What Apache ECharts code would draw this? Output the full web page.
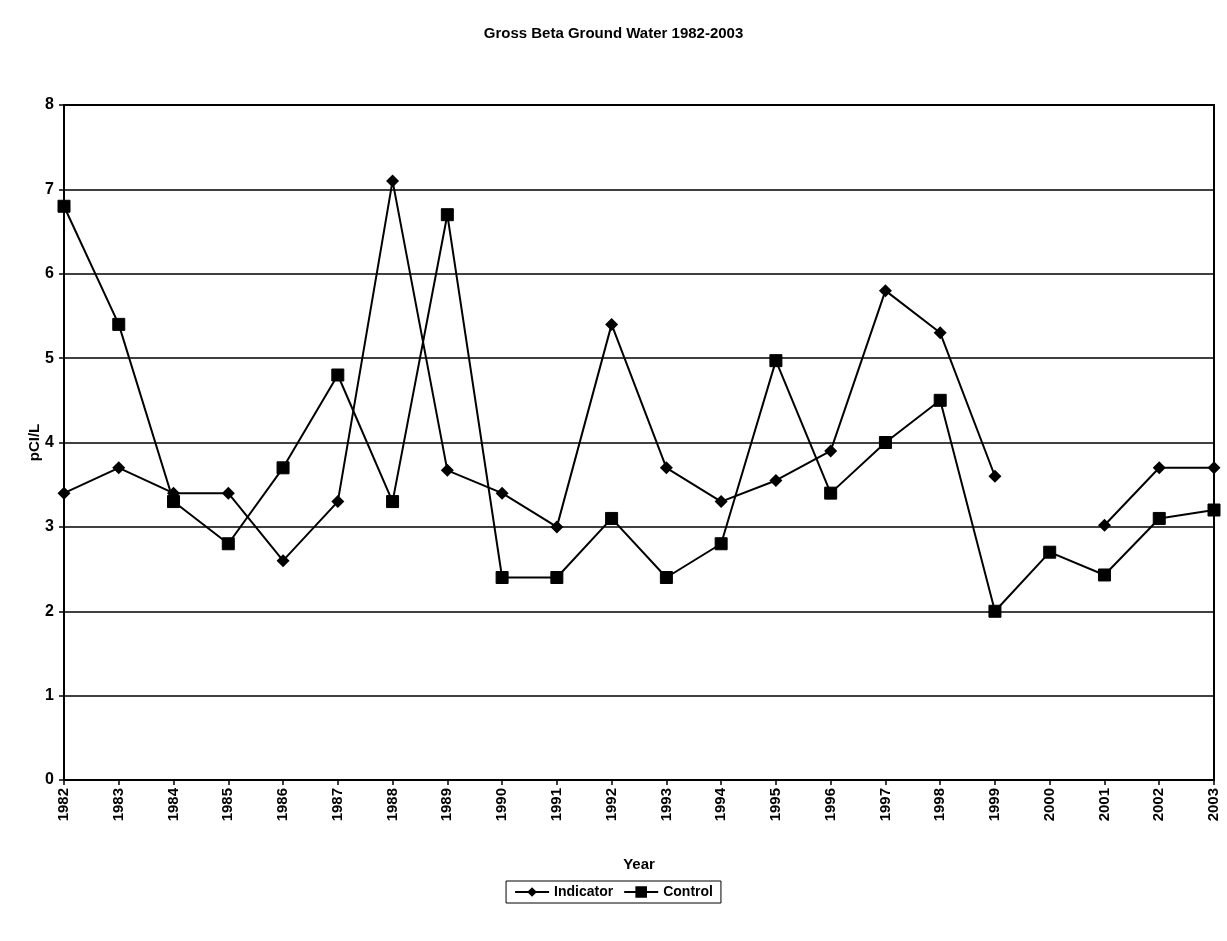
<!DOCTYPE html>
<html><head><meta charset="utf-8">
<script src="https://cdn.jsdelivr.net/npm/echarts@6/dist/echarts.min.js"></script>
<style>html,body{margin:0;padding:0;background:#fff}#c{width:1227px;height:941px}</style>
</head><body><div id="c"></div>
<script>
const years = ['1982','1983','1984','1985','1986','1987','1988','1989','1990','1991','1992','1993','1994','1995','1996','1997','1998','1999','2000','2001','2002','2003'];
const indicator = [3.4,3.7,3.4,3.4,2.6,3.3,7.1,3.67,3.4,3.0,5.4,3.7,3.3,3.55,3.9,5.8,5.3,3.6,null,3.02,3.7,3.7];
const control = [6.8,5.4,3.3,2.8,3.7,4.8,3.3,6.7,2.4,2.4,3.1,2.4,2.8,4.97,3.4,4.0,4.5,2.0,2.7,2.43,3.1,3.2];
const yTicks = [0,1,2,3,4,5,6,7,8];

const FONT = '"Liberation Sans Narrow","Liberation Sans",Arial,sans-serif';
const chart = echarts.init(document.getElementById('c'), null, {renderer:'canvas'});
chart.setOption({
  animation:false,
  backgroundColor:'#fff',
  title:{text:'Gross Beta Ground Water 1982-2003',left:'center',top:21,
    textStyle:{fontFamily:FONT,fontSize:15,fontWeight:'bold',color:'#000'}},
  legend:{bottom:38,left:'center',itemGap:10,itemWidth:34,itemHeight:12,
    borderColor:'#000',borderWidth:1,padding:[4,8],borderRadius:0,
    textStyle:{fontFamily:FONT,fontSize:14,fontWeight:'bold',color:'#000'},
    data:['Indicator','Control']},
  grid:{left:64,right:13,top:105,bottom:161,show:true,borderColor:'#000',borderWidth:2,containLabel:false},
  xAxis:{type:'category',data:years,boundaryGap:false,
    name:'Year',nameLocation:'middle',nameGap:77,nameMoveOverlap:false,
    nameTextStyle:{fontFamily:FONT,fontSize:15,fontWeight:'bold',color:'#000'},
    axisLine:{lineStyle:{color:'#000',width:2}},
    axisTick:{show:true,length:5,lineStyle:{color:'#000',width:1.5}},
    axisLabel:{rotate:90,fontFamily:FONT,fontSize:15,fontWeight:'bold',color:'#000',margin:8},
    splitLine:{show:false}},
  yAxis:{type:'value',min:yTicks[0],max:yTicks[yTicks.length-1],interval:1,
    name:'pCI/L',nameLocation:'middle',nameGap:22,nameRotate:90,nameMoveOverlap:false,
    nameTextStyle:{fontFamily:FONT,fontSize:15,fontWeight:'bold',color:'#000'},
    axisLine:{show:true,lineStyle:{color:'#000',width:2}},
    axisTick:{show:true,length:5,lineStyle:{color:'#000',width:1.5}},
    axisLabel:{fontFamily:FONT,fontSize:16,fontWeight:'bold',color:'#000',margin:10},
    splitLine:{show:true,lineStyle:{color:'#000',width:1.5}}},
  series:[
    {name:'Indicator',type:'line',data:indicator,connectNulls:false,
      symbol:'diamond',symbolSize:13,showAllSymbol:true,
      lineStyle:{color:'#000',width:2},itemStyle:{color:'#000'}},
    {name:'Control',type:'line',data:control,
      symbol:'rect',symbolSize:12,showAllSymbol:true,
      lineStyle:{color:'#000',width:2},itemStyle:{color:'#000',borderColor:'#000',borderWidth:1}}
  ]
});
</script></body></html>
